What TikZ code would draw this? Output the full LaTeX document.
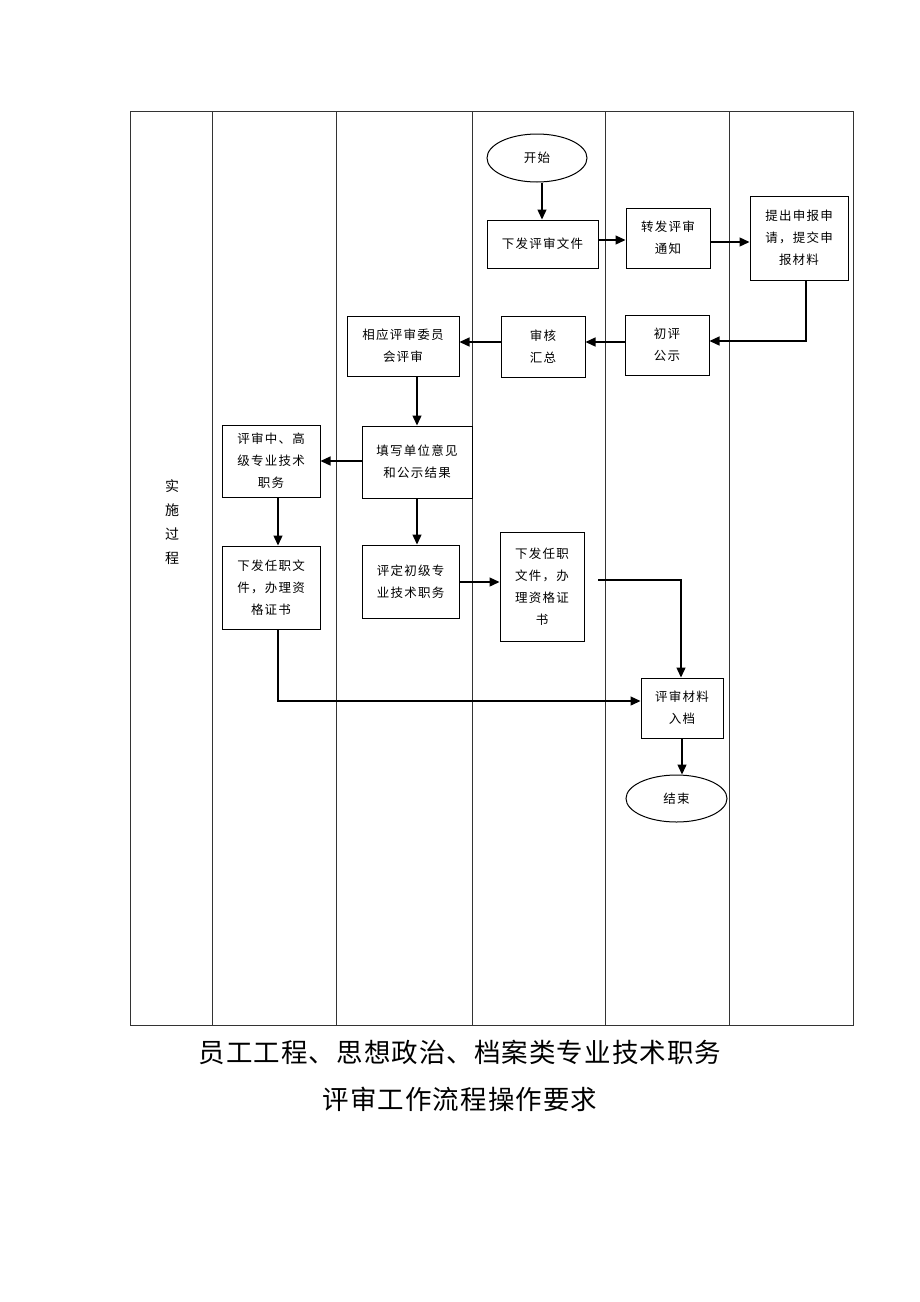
\documentclass[tikz,border=0pt]{standalone}
\usepackage{fontspec}
\newfontfamily\cjk[LetterSpace=10]{Noto Sans CJK SC}
\newfontfamily\cjktitle[LetterSpace=4]{Noto Sans CJK SC}
\usetikzlibrary{arrows.meta,shapes.geometric}
\begin{document}
\begin{tikzpicture}[x=1pt,y=-1pt,
  lane/.style={draw=black!80,line width=0.8pt},
  box/.style={draw,line width=1pt,align=center,inner sep=0pt,font=\cjk\fontsize{12.5}{22}\selectfont},
  term/.style={draw,ellipse,line width=1pt,inner sep=0pt,font=\cjk\fontsize{12.5}{22}\selectfont},
  conn/.style={line width=1.3pt,-{Triangle[length=10pt,width=9pt]}},
  plain/.style={line width=1.1pt}]
\useasboundingbox (0,0) rectangle (920,1302);
% frame and lanes
\draw[lane] (130,111) rectangle (853,1025);
\foreach \x in {212,336,472,605,729} \draw[lane] (\x,111) -- (\x,1025);
\node[font=\cjk\fontsize{14}{24}\selectfont,align=center] (lanelabel) at (172,522) {实\\施\\过\\程};
% nodes
\node[term,minimum width=100pt,minimum height=48pt] (start) at (537,158) {开始};
\node[box,minimum width=111pt,minimum height=48pt] (issue) at (542.5,244) {下发评审文件};
\node[box,minimum width=84pt,minimum height=60pt] (forward) at (668,238) {转发评审\\通知};
\node[box,minimum width=98pt,minimum height=84pt] (apply) at (799,238) {提出申报申\\请，提交申\\报材料};
\node[box,minimum width=84pt,minimum height=60pt] (prelim) at (667,345) {初评\\公示};
\node[box,minimum width=84pt,minimum height=61pt] (audit) at (543,346.5) {审核\\汇总};
\node[box,minimum width=112pt,minimum height=60pt] (committee) at (403,346) {相应评审委员\\会评审};
\node[box,minimum width=110pt,minimum height=72pt] (fill) at (417,462) {填写单位意见\\和公示结果};
\node[box,minimum width=98pt,minimum height=72pt] (senior) at (271,461) {评审中、高\\级专业技术\\职务};
\node[box,minimum width=98pt,minimum height=83pt] (issueL) at (271,587.5) {下发任职文\\件，办理资\\格证书};
\node[box,minimum width=97pt,minimum height=73pt] (junior) at (410.5,581.5) {评定初级专\\业技术职务};
\node[box,minimum width=84pt,minimum height=109pt] (issueM) at (542,586.5) {下发任职\\文件，办\\理资格证\\书};
\node[box,minimum width=82pt,minimum height=60pt] (archive) at (682,708) {评审材料\\入档};
\node[term,minimum width=101pt,minimum height=47pt] (end) at (676.5,798.5) {结束};
\coordinate (mstart) at (598,580);
% connectors
\draw[conn] (start.south -| 542,0) -- (issue.north -| 542,0);
\draw[conn] (issue.east |- 0,240) -- (forward.west |- 0,240);
\draw[conn] (forward.east |- 0,242) -- (apply.west |- 0,242);
\draw[conn] (apply.south -| 806,0) -- (806,341) -- (prelim.east |- 0,341);
\draw[conn] (prelim.west |- 0,342) -- (audit.east |- 0,342);
\draw[conn] (audit.west |- 0,342) -- (committee.east |- 0,342);
\draw[conn] (committee.south -| 417,0) -- (fill.north -| 417,0);
\draw[conn] (fill.west |- 0,461) -- (senior.east |- 0,461);
\draw[conn] (senior.south -| 278,0) -- (issueL.north -| 278,0);
\draw[conn] (fill.south -| 417,0) -- (junior.north -| 417,0);
\draw[conn] (junior.east |- 0,582) -- (issueM.west |- 0,582);
\draw[conn] (mstart) -- (681,580) -- (archive.north -| 681,0);
\draw[conn] (issueL.south -| 278,0) -- (278,701) -- (archive.west |- 0,701);
\draw[conn] (archive.south -| 682,0) -- (end.north -| 682,0);
% title
\node[font=\cjktitle\fontsize{26.5}{30}\selectfont] (title1) at (460,1052) {员工工程、思想政治、档案类专业技术职务};
\node[font=\cjktitle\fontsize{26.5}{30}\selectfont] (title2) at (460,1099) {评审工作流程操作要求};
\end{tikzpicture}
\end{document}
